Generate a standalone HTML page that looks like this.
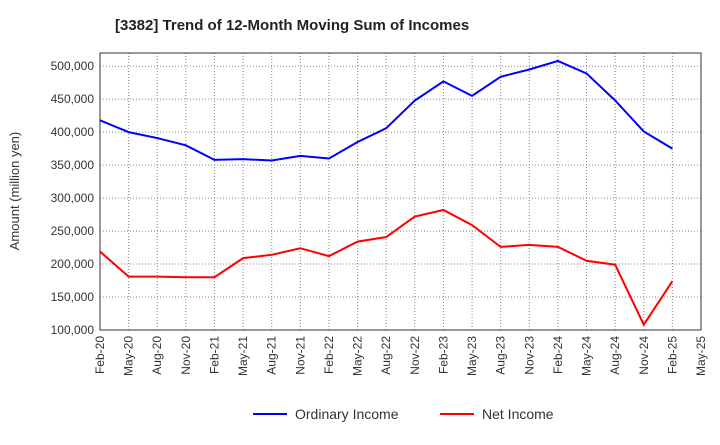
<!DOCTYPE html>
<html><head><meta charset="utf-8"><style>
body{margin:0;background:#fff;font-family:"Liberation Sans",Arial,sans-serif;}
svg text{font-family:"Liberation Sans",Arial,sans-serif;}
</style></head><body>
<svg id="chart" width="720" height="440" viewBox="0 0 720 440">
<text x="115" y="30" font-size="15" font-weight="bold" fill="#222">[3382]  Trend of 12-Month Moving Sum of Incomes</text>
<text transform="translate(19,191) rotate(-90)" text-anchor="middle" font-size="13" fill="#333">Amount (million yen)</text>
<g id="grid"></g><g id="axes"></g><g id="series"></g>
<g>
<line x1="253" y1="414" x2="287" y2="414" stroke="#0000ff" stroke-width="2"/>
<text x="295" y="419" font-size="14" fill="#333">Ordinary Income</text>
<line x1="440" y1="414" x2="474" y2="414" stroke="#ff0000" stroke-width="2"/>
<text x="482" y="419" font-size="14" fill="#333">Net Income</text>
</g>
</svg>
<script>
const categories=["Feb-20","May-20","Aug-20","Nov-20","Feb-21","May-21","Aug-21","Nov-21","Feb-22","May-22","Aug-22","Nov-22","Feb-23","May-23","Aug-23","Nov-23","Feb-24","May-24","Aug-24","Nov-24","Feb-25","May-25"];
const ordinaryIncome=[418000,400000,391000,380000,358000,359000,357000,364000,360000,385000,406000,448000,477000,455000,484000,495000,508000,489000,448000,401000,375000];
const netIncome=[219000,181000,181000,180000,180000,209000,214000,224000,212000,234000,241000,272000,282000,259000,226000,229000,226000,205000,199000,108000,174000];
const yTicks=[100000,150000,200000,250000,300000,350000,400000,450000,500000];
const NS="http://www.w3.org/2000/svg";
const L=100,R=701,T=53,B=330,yMin=100000,yMax=520000;
const x=i=>L+i*(R-L)/(categories.length-1);
const y=v=>B-(v-yMin)/(yMax-yMin)*(B-T);
function mk(tag,attrs,parent){const e=document.createElementNS(NS,tag);for(const k in attrs)e.setAttribute(k,attrs[k]);document.getElementById(parent).appendChild(e);return e;}
yTicks.forEach(v=>{
 const g=mk('line',{x1:L,x2:R,y1:y(v),y2:y(v),stroke:'#888','stroke-dasharray':'1,2','stroke-width':1},'grid');
 
 
 const t=mk('text',{x:L-6,y:y(v)+4,'text-anchor':'end','font-size':12,fill:'#333'},'axes');
 t.textContent=v.toLocaleString('en-US');
 
 
});
categories.forEach((c,i)=>{
 const g=mk('line',{x1:x(i),x2:x(i),y1:T,y2:B,stroke:'#888','stroke-dasharray':'1,2','stroke-width':1},'grid');
 
 
 const t=mk('text',{transform:`translate(${x(i)+4},${B+6}) rotate(-90)`,'text-anchor':'end','font-size':12,fill:'#333'},'axes');
 t.textContent=c;
 
 
});
const frame=mk('rect',{x:L,y:T,width:R-L,height:B-T,fill:'none',stroke:'#333','stroke-width':1},'axes');


function line(data,color,name){
 const p=mk('polyline',{points:data.map((v,i)=>x(i)+','+y(v)).join(' '),fill:'none',stroke:color,'stroke-width':2},'series');
 
 
}
line(ordinaryIncome,'#0000ff','ordinary-income-line');
line(netIncome,'#ff0000','net-income-line');
</script>
</body></html>
